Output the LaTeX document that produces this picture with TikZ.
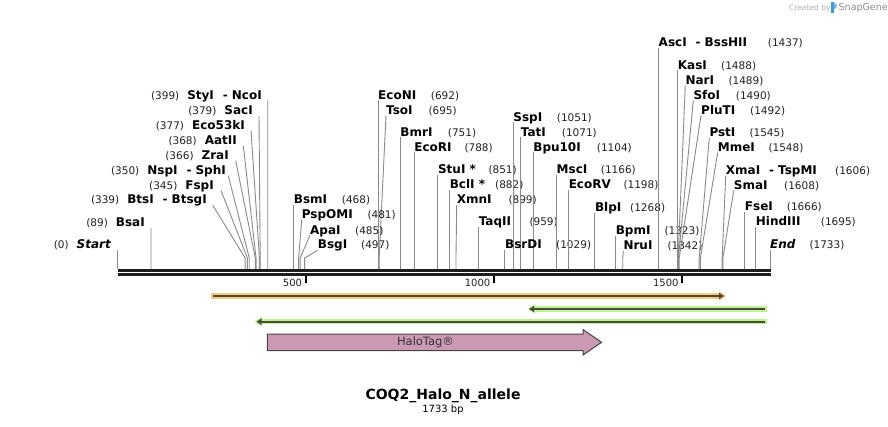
\documentclass[tikz,border=0pt]{standalone}
\usepackage{fontspec}
\setmainfont{DejaVu Sans}
\usetikzlibrary{arrows.meta}
\definecolor{bandorange}{HTML}{FDCB7A}
\definecolor{bandgreen}{HTML}{BEF28E}
\definecolor{featdark}{HTML}{4A4A40}
\definecolor{halofill}{HTML}{CC99B4}
\definecolor{haloedge}{HTML}{444444}
\definecolor{conngray}{HTML}{8A8A8A}
\definecolor{rulerdark}{HTML}{1E1E1E}
\definecolor{numgray}{HTML}{222222}
\definecolor{logoblue}{HTML}{3A9BE0}
\newcommand\NmFont{\fontsize{12}{14}\selectfont\bfseries}
\newcommand\NuFont{\fontsize{10.5}{12}\selectfont}
\newcommand\LblDash{\hspace{9pt}-\hspace{4pt}}
\newcommand\SiteX{0}
\tikzset{
  nm/.style={font=\NmFont, inner sep=0pt, text=black},
  nu/.style={font=\NuFont, inner sep=0pt, text=numgray},
  conn/.style={draw=conngray, line width=0.9pt},
  featline/.style={draw=featdark, line width=1.7pt},
}
% right-hand label, straight vertical connector
\newcommand\RV[6]{%
  \pgfmathsetmacro\SiteX{117.5+0.3765*#6}%
  \node[nm,anchor=base west] (n#1) at (\SiteX,#4+4.3) {#2};%
  \node[nu,anchor=base west] (m#1) at (#5,#4+4.3) {#3};%
  \coordinate (t#1) at (\SiteX,#4+5.5);%
  \coordinate (r#1) at (\SiteX,269);%
  \draw[conn] (t#1) -- (r#1);%
}
% right-hand label, angled connector
\newcommand\RA[7]{%
  \pgfmathsetmacro\SiteX{117.5+0.3765*#7}%
  \node[nm,anchor=base west] (n#1) at (#4,#5+4.3) {#2};%
  \node[nu,anchor=base west] (m#1) at (#6,#5+4.3) {#3};%
  \coordinate (t#1) at (#4,#5+5.5);%
  \coordinate (b#1) at (\SiteX,258);%
  \coordinate (r#1) at (\SiteX,269);%
  \draw[conn] (t#1) -- (b#1) -- (r#1);%
}
% left-hand label (number first), connector from its right end
\newcommand\LA[7]{%
  \pgfmathsetmacro\SiteX{117.5+0.3765*#7}%
  \node[nm,anchor=base east] (l#1) at (#4,#5+4.3) {{\NuFont\mdseries\color{numgray}#2}\hspace{8pt}#3};%
  \coordinate (t#1) at (#6,#5+5.5);%
  \coordinate (b#1) at (\SiteX,258);%
  \coordinate (r#1) at (\SiteX,269);%
  \draw[conn] (t#1) -- (b#1) -- (r#1);%
}
\begin{document}
\begin{tikzpicture}[x=1pt,y=-1pt]
\useasboundingbox (0,0) rectangle (888,427);
\fill[white] (0,0) rectangle (888,427);

% watermark
\node[anchor=west, inner sep=0pt, font=\fontsize{7.5}{9}\selectfont, text=black!32] (wmA) at (789,8) {Created by};
\fill[logoblue] (831,2.5) rectangle (833.6,13.5);
\fill[logoblue!70] (833.6,3) .. controls (837.5,3) and (837.5,9) .. (833.6,9) -- cycle;
\node[anchor=west, inner sep=0pt, font=\fontsize{9.5}{11}\selectfont, text=black!45] (wmB) at (838.5,8) {SnapGene};

% ruler
\fill[rulerdark] (117.5,269) rectangle (770.7,272);
\fill[rulerdark] (117.5,273.5) rectangle (770.7,276);
\foreach \v/\t in {500/tA,1000/tB,1500/tC}{
  \pgfmathsetmacro\SiteX{117.5+0.3765*\v}
  \coordinate (\t a) at (\SiteX,276);
  \coordinate (\t b) at (\SiteX,283.5);
  \draw[black, line width=1.6pt] (\t a) -- (\t b);
  \node[nu, anchor=base east, font=\fontsize{10}{12}\selectfont] (\t n) at (\SiteX-3.5,287) {\v};
}

% left-hand labels
\LA{StyI}{(399)}{StyI\LblDash NcoI}{262}{95}{267.7}{399}
\LA{SacI}{(379)}{SacI}{253}{110.3}{259}{379}
\LA{EcoFiftyThree}{(377)}{Eco53kI}{245}{125}{251}{377}
\LA{AatII}{(368)}{AatII}{237}{140.3}{243.3}{368}
\LA{ZraI}{(366)}{ZraI}{229}{155}{235.7}{366}
\LA{NspI}{(350)}{NspI\LblDash SphI}{226}{170.3}{228.3}{350}
\LA{FspI}{(345)}{FspI}{214}{185}{221}{345}
\LA{BtsI}{(339)}{BtsI\LblDash BtsgI}{207}{199.7}{212.7}{339}
\LA{BsaI}{(89)}{BsaI}{145}{222.3}{151}{89}
\LA{Start}{(0)}{\itshape Start}{111}{244.3}{117.5}{0}

% right-hand labels
\RV{EcoNI}{EcoNI}{(692)}{95}{430.7}{692}
\RA{TsoI}{TsoI}{(695)}{386}{110}{428.3}{695}
\RV{BmrI}{BmrI}{(751)}{132}{447.7}{751}
\RV{EcoRI}{EcoRI}{(788)}{147}{464.3}{788}
\RV{StuI}{StuI *}{(851)}{169.7}{488.3}{851}
\RV{BclI}{BclI *}{(882)}{184.7}{495}{882}
\RA{XmnI}{XmnI}{(899)}{456.7}{199.5}{508.3}{899}
\RV{BsmI}{BsmI}{(468)}{199.5}{341.7}{468}
\RA{PspOMI}{PspOMI}{(481)}{301.7}{214.7}{367.3}{481}
\RA{ApaI}{ApaI}{(485)}{310}{229.8}{355}{485}
\RA{BsgI}{BsgI}{(497)}{317.7}{244.7}{361}{497}
\RV{SspI}{SspI}{(1051)}{116.8}{556.7}{1051}
\RV{TatI}{TatI}{(1071)}{132}{561.7}{1071}
\RV{BpuTen}{Bpu10I}{(1104)}{147}{596.7}{1104}
\RV{TaqII}{TaqII}{(959)}{221.7}{529.3}{959}
\RV{BsrDI}{BsrDI}{(1029)}{244.7}{556}{1029}
\RV{MscI}{MscI}{(1166)}{169.5}{600.7}{1166}
\RV{EcoRV}{EcoRV}{(1198)}{184.7}{623.3}{1198}
\RV{BlpI}{BlpI}{(1268)}{207.2}{630}{1268}
\RV{BpmI}{BpmI}{(1323)}{230.5}{664.3}{1323}
\RA{NruI}{NruI}{(1342)}{623.3}{245.3}{667.3}{1342}
\RV{AscI}{AscI\LblDash BssHII}{(1437)}{42.2}{767.7}{1437}
\RV{KasI}{KasI}{(1488)}{65}{721}{1488}
\RA{NarI}{NarI}{(1489)}{685.3}{79.8}{728.3}{1489}
\RA{SfoI}{SfoI}{(1490)}{693.3}{95}{735.7}{1490}
\RA{PluTI}{PluTI}{(1492)}{701}{110}{750}{1492}
\RA{PstI}{PstI}{(1545)}{709.3}{132.2}{749.3}{1545}
\RA{MmeI}{MmeI}{(1548)}{717.7}{147}{768.3}{1548}
\RA{XmaI}{XmaI\LblDash TspMI}{(1606)}{725.7}{170.5}{835}{1606}
\RA{SmaI}{SmaI}{(1608)}{733.7}{185}{784}{1608}
\RV{FseI}{FseI}{(1666)}{206.3}{786.7}{1666}
\RV{HindIII}{HindIII}{(1695)}{221.7}{820.7}{1695}
\RV{End}{\itshape End}{(1733)}{244.3}{809.3}{1733}

% feature 1: orange, forward
\fill[bandorange] (211,293.3) rectangle (719,298.7);
\fill[bandorange] (719,291) -- (726.5,296) -- (719,301) -- cycle;
\coordinate (oS) at (213,296);
\coordinate (oE) at (724,296);
\draw[featline, -{Triangle[length=5pt,width=6pt]}] (oS) -- (oE);

% feature 2: green, reverse (upper)
\fill[bandgreen] (535,306.3) rectangle (767,311.7);
\fill[bandgreen] (535,304) -- (527.5,309) -- (535,314) -- cycle;
\coordinate (gAS) at (765,309);
\coordinate (gAE) at (529,309);
\draw[featline, -{Triangle[length=5pt,width=6pt]}] (gAS) -- (gAE);

% feature 3: green, reverse (lower)
\fill[bandgreen] (262,319) rectangle (767,324.4);
\fill[bandgreen] (262,316.7) -- (254.5,321.7) -- (262,326.7) -- cycle;
\coordinate (gBS) at (765,321.7);
\coordinate (gBE) at (256.5,321.7);
\draw[featline, -{Triangle[length=5pt,width=6pt]}] (gBS) -- (gBE);

% HaloTag feature
\draw[fill=halofill, draw=haloedge, line width=1pt]
  (267.3,334) -- (583,334) -- (583,329.5) -- (601.5,342.3) -- (583,355) -- (583,350.7) -- (267.3,350.7) -- cycle;
\node[inner sep=0pt, font=\fontsize{11.5}{13}\selectfont, text=black!80] (halo) at (425.5,342.3) {HaloTag®};

% title
\node[inner sep=0pt, font=\fontsize{14}{16}\selectfont\bfseries] (title) at (443,396) {COQ2\_Halo\_N\_allele};
\node[inner sep=0pt, font=\fontsize{10}{12}\selectfont] (len) at (443,409.5) {1733 bp};
\end{tikzpicture}
\end{document}
